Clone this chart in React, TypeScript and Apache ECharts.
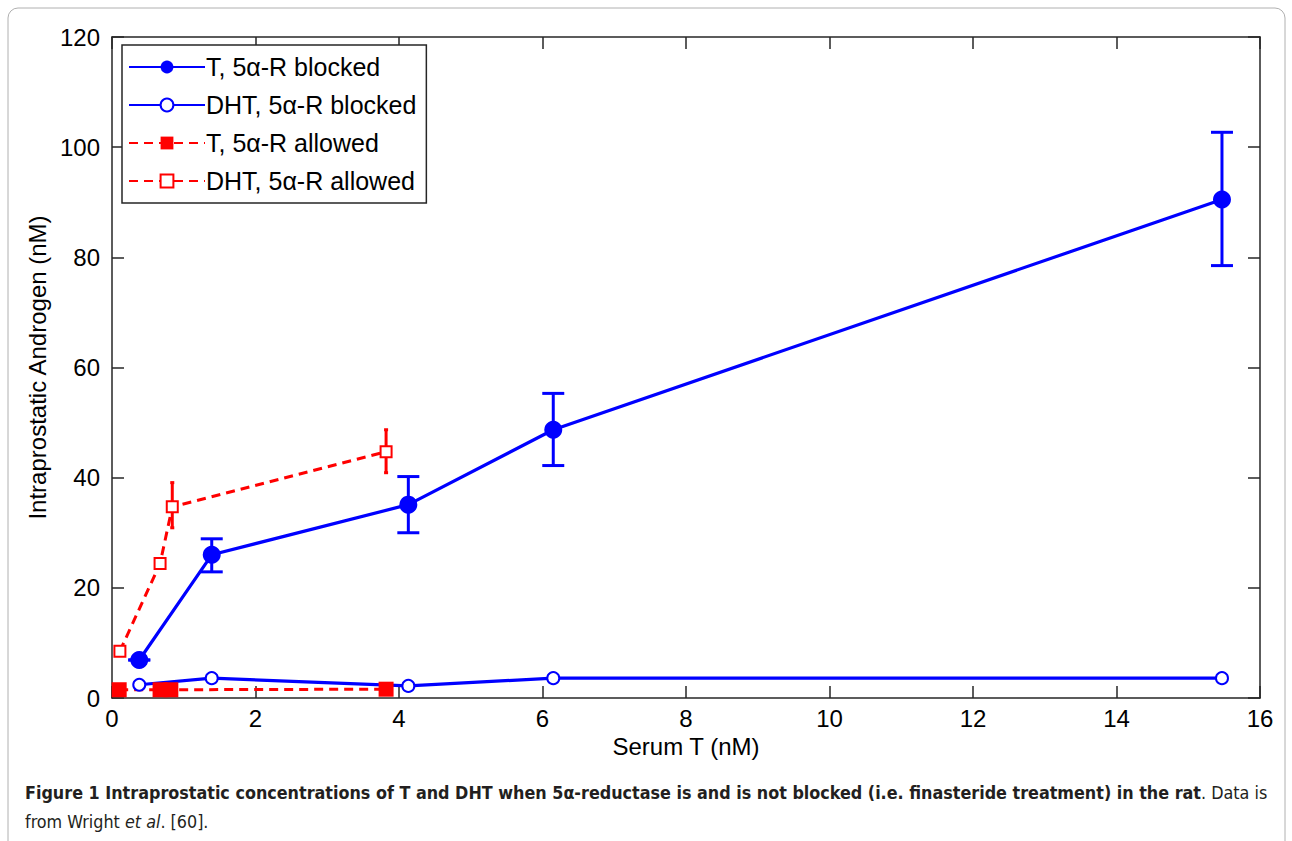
import React, { useEffect, useRef } from "react";
import * as echarts from "echarts";

const xTicks = [0, 2, 4, 6, 8, 10, 12, 14, 16];
const yTicks = [0, 20, 40, 60, 80, 100, 120];

const tBlockedX = [0.38, 1.39, 4.13, 6.15, 15.47];
const tBlockedY = [6.9, 26.0, 35.1, 48.7, 90.5];
const tBlockedLo = [6.9, 22.9, 30.0, 42.2, 78.5];
const tBlockedHi = [6.9, 28.9, 40.2, 55.3, 102.7];

const dhtBlockedX = [0.38, 1.39, 4.13, 6.15, 15.47];
const dhtBlockedY = [2.4, 3.6, 2.2, 3.6, 3.6];

const tAllowedX = [0.1, 0.67, 0.82, 3.82];
const tAllowedY = [1.5, 1.5, 1.5, 1.6];

const dhtAllowedX = [0.11, 0.67, 0.84, 3.82];
const dhtAllowedY = [8.5, 24.4, 34.7, 44.7];
const dhtAllowedLo = [8.5, 24.4, 30.9, 40.9];
const dhtAllowedHi = [8.5, 24.4, 39.1, 48.7];

const names = [
  "T, 5α-R blocked",
  "DHT, 5α-R blocked",
  "T, 5α-R allowed",
  "DHT, 5α-R allowed",
];

const zip = (xs: number[], ys: number[]) => xs.map((x, i) => [x, ys[i]]);

function errorSeries(xs: number[], lo: number[], hi: number[], color: string, cap: number) {
  return {
    type: "custom",
    silent: true,
    z: 1,
    data: xs.map((x, i) => [x, lo[i], hi[i]]),
    renderItem: (params: any, api: any) => {
      const lo = api.coord([api.value(0), api.value(1)]);
      const hi = api.coord([api.value(0), api.value(2)]);
      const style = { stroke: color, lineWidth: 3 };
      return {
        type: "group",
        children: [
          { type: "line", shape: { x1: lo[0], y1: lo[1], x2: hi[0], y2: hi[1] }, style },
          { type: "line", shape: { x1: hi[0] - cap, y1: hi[1], x2: hi[0] + cap, y2: hi[1] }, style },
          { type: "line", shape: { x1: lo[0] - cap, y1: lo[1], x2: lo[0] + cap, y2: lo[1] }, style },
        ],
      };
    },
  };
}

export default function App() {
  const ref = useRef<HTMLDivElement>(null);
  useEffect(() => {
    const chart = echarts.init(ref.current!, null, { renderer: "svg" });
    const font = "'Liberation Sans', Arial, sans-serif";
    const capFont = "'Liberation Sans Narrow', 'DejaVu Sans Condensed', sans-serif";
    const axisCommon = {
      type: "value",
      axisLine: { show: true, onZero: false, lineStyle: { color: "#262626", width: 1.5 } },
      axisTick: { show: true, inside: true, length: 12, lineStyle: { color: "#262626", width: 1.5 } },
      splitLine: { show: false },
    };
    chart.setOption({
      animation: false,
      backgroundColor: "#fff",
      grid: { left: 112, right: 32, top: 37, bottom: 143, containLabel: false },
      legend: {
        orient: "vertical",
        left: 122,
        top: 45,
        data: names,
        backgroundColor: "#fff",
        borderColor: "#262626",
        borderWidth: 1.5,
        borderRadius: 0,
        padding: [8, 10, 8, 6],
        itemWidth: 76,
        itemHeight: 16,
        itemGap: 10,
        textStyle: { fontFamily: font, fontSize: 25, lineHeight: 28, color: "#000", padding: [0, 0, 0, -4] },
      },
      xAxis: [
        {
          ...axisCommon,
          min: 0,
          max: 16,
          interval: 2,
          name: "Serum T (nM)",
          nameLocation: "middle",
          nameGap: 34,
          nameTextStyle: { fontFamily: font, fontSize: 24, color: "#000" },
          axisLabel: { fontFamily: font, fontSize: 24, color: "#000", margin: 8 },
        },
        {
          ...axisCommon,
          position: "top",
          min: 0,
          max: 16,
          interval: 2,
          axisLabel: { show: false },
        },
      ],
      yAxis: [
        {
          ...axisCommon,
          min: 0,
          max: 120,
          interval: 20,
          name: "Intraprostatic Androgen (nM)",
          nameLocation: "middle",
          nameGap: 51,
          nameTextStyle: { fontFamily: font, fontSize: 24, color: "#000" },
          axisLabel: { fontFamily: font, fontSize: 24, color: "#000", margin: 12 },
        },
        {
          ...axisCommon,
          position: "right",
          min: 0,
          max: 120,
          interval: 20,
          axisLabel: { show: false },
        },
      ],
      series: [
        errorSeries(tBlockedX, tBlockedLo, tBlockedHi, "#0000ff", 11),
        errorSeries(dhtAllowedX, dhtAllowedLo, dhtAllowedHi, "#ff0000", 2),
        {
          name: names[0],
          type: "line",
          data: zip(tBlockedX, tBlockedY),
          symbol: "circle",
          symbolSize: 18,
          lineStyle: { color: "#0000ff", width: 3.2 },
          itemStyle: { color: "#0000ff" },
          z: 3,
        },
        {
          name: names[1],
          type: "line",
          data: zip(dhtBlockedX, dhtBlockedY),
          symbol: "emptyCircle",
          symbolSize: 12,
          lineStyle: { color: "#0000ff", width: 3.2 },
          itemStyle: { color: "#0000ff", borderColor: "#0000ff", borderWidth: 3 },
          z: 3,
        },
        {
          name: names[2],
          type: "line",
          data: zip(tAllowedX, tAllowedY),
          symbol: "rect",
          symbolSize: 15,
          lineStyle: { color: "#ff0000", width: 3, type: [9, 6] },
          itemStyle: { color: "#ff0000" },
          z: 3,
        },
        {
          name: names[3],
          type: "line",
          data: zip(dhtAllowedX, dhtAllowedY),
          symbol: "emptyRect",
          symbolSize: 11,
          lineStyle: { color: "#ff0000", width: 3, type: [9, 6] },
          itemStyle: { color: "#ff0000", borderColor: "#ff0000", borderWidth: 2.5 },
          z: 3,
        },
      ],
      graphic: [
        {
          type: "rect",
          shape: { x: 8, y: 8, width: 1277, height: 860, r: 10 },
          style: { fill: "none", stroke: "#b0b0b0", lineWidth: 1 },
          silent: true,
        },
        {
          type: "text",
          x: 25,
          y: 783,
          style: {
            text:
              "{b|Figure 1 Intraprostatic concentrations of T and DHT when 5α-reductase is and is not blocked (i.e. finasteride treatment) in the rat}{n|. Data is}",
            rich: {
              b: { fontFamily: capFont, fontWeight: "bold", fontSize: 17.8, fill: "#231f20" },
              n: { fontFamily: capFont, fontSize: 17.8, fill: "#231f20" },
            },
          },
        },
        {
          type: "text",
          x: 25,
          y: 812,
          style: {
            text: "{n|from Wright }{i|et al}{n|. [60].}",
            rich: {
              n: { fontFamily: capFont, fontSize: 17.8, fill: "#231f20" },
              i: { fontFamily: capFont, fontStyle: "italic", fontSize: 17.8, fill: "#231f20" },
            },
          },
        },
      ],
    });
    return () => chart.dispose();
  }, []);
  return (
    <div
      ref={ref}
      style={{ position: "fixed", left: 0, top: 0, width: 1292, height: 841 }}
    />
  );
}
